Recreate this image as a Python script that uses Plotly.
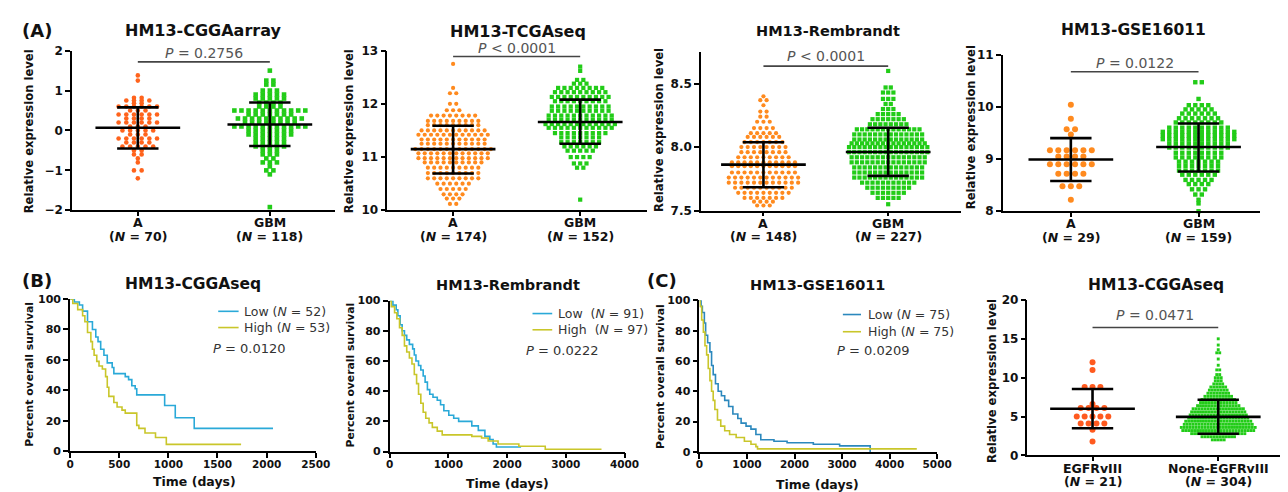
import plotly.graph_objects as go

W, H = 1288, 492
FONT = "DejaVu Sans"

# ================= DATA =================
# Beeswarm dot plots: each group given as rows (expression level, number of samples in that row)
# (A) HM13-CGGAarray
cggaarray_A_levels = [1.38, 1.25, 0.82, 0.75, 0.68, 0.6, 0.5, 0.4, 0.3, 0.2, 0.1, 0.0, -0.1, -0.2, -0.3, -0.4, -0.5, -0.6, -0.7, -0.8, -1.0, -1.2]
cggaarray_A_counts = [1, 1, 2, 4, 2, 6, 3, 6, 4, 6, 3, 5, 3, 6, 4, 5, 2, 2, 1, 1, 2, 1]
cggaarray_GBM_levels = [1.5, 1.25, 1.15, 1.0, 0.9, 0.8, 0.7, 0.6, 0.5, 0.4, 0.3, 0.2, 0.1, 0.0, -0.1, -0.2, -0.3, -0.4, -0.5, -0.6, -0.7, -0.8, -0.9, -1.0, -1.1, -1.92]
cggaarray_GBM_counts = [1, 2, 2, 3, 5, 5, 4, 4, 11, 7, 10, 8, 11, 7, 7, 5, 5, 5, 3, 3, 2, 3, 1, 2, 1, 1]
cggaarray_mean = [0.07, 0.15]
cggaarray_upper = [0.58, 0.70]
cggaarray_lower = [-0.45, -0.39]
cggaarray_cats = ["A", "GBM"]
cggaarray_n = ["(<i>N</i> = 70)", "(<i>N</i> = 118)"]
cggaarray_p = "<i>P</i> = 0.2756"

# HM13-TCGAseq
tcga_A_levels = [12.75, 12.3, 12.2, 12.0, 11.88, 11.78, 11.68, 11.6, 11.5, 11.42, 11.33, 11.25, 11.15, 11.07, 10.98, 10.9, 10.8, 10.7, 10.6, 10.5, 10.4, 10.3, 10.22, 10.12]
tcga_A_counts = [1, 1, 2, 2, 3, 8, 9, 9, 11, 12, 11, 11, 13, 12, 12, 10, 9, 9, 9, 6, 5, 4, 3, 2]
tcga_GBM_levels = [12.7, 12.62, 12.45, 12.38, 12.3, 12.22, 12.13, 12.05, 11.95, 11.87, 11.78, 11.7, 11.62, 11.55, 11.45, 11.37, 11.28, 11.2, 11.12, 11.0, 10.88, 10.8, 10.2]
tcga_GBM_counts = [1, 1, 2, 3, 8, 9, 10, 9, 10, 10, 11, 11, 12, 11, 9, 7, 7, 6, 5, 4, 3, 2, 1]
tcga_mean = [11.15, 11.66]
tcga_upper = [11.59, 12.08]
tcga_lower = [10.69, 11.25]
tcga_cats = ["A", "GBM"]
tcga_n = ["(<i>N</i> = 174)", "(<i>N</i> = 152)"]
tcga_p = "<i>P</i> < 0.0001"

# HM13-Rembrandt
remb_A_levels = [8.4, 8.37, 8.33, 8.28, 8.24, 8.2, 8.15, 8.11, 8.08, 8.04, 8.0, 7.96, 7.92, 7.88, 7.85, 7.8, 7.76, 7.72, 7.68, 7.64, 7.6, 7.57, 7.54]
remb_A_counts = [1, 2, 1, 2, 2, 3, 4, 5, 6, 7, 8, 8, 9, 11, 11, 11, 12, 12, 10, 9, 7, 4, 3]
remb_GBM_levels = [8.6, 8.47, 8.43, 8.38, 8.34, 8.3, 8.26, 8.22, 8.18, 8.14, 8.1, 8.06, 8.03, 8.0, 7.96, 7.92, 7.88, 7.84, 7.8, 7.76, 7.72, 7.68, 7.64, 7.6, 7.55]
remb_GBM_counts = [1, 2, 3, 3, 2, 3, 5, 7, 8, 13, 14, 14, 15, 16, 16, 15, 15, 14, 14, 14, 11, 9, 7, 5, 1]
remb_mean = [7.862, 7.962]
remb_upper = [8.038, 8.153]
remb_lower = [7.684, 7.773]
remb_cats = ["A", "GBM"]
remb_n = ["(<i>N</i> = 148)", "(<i>N</i> = 227)"]
remb_p = "<i>P</i> < 0.0001"

# HM13-GSE16011
gse_A_levels = [10.04, 9.77, 9.57, 9.47, 9.17, 9.05, 8.9, 8.72, 8.48, 8.22]
gse_A_counts = [1, 1, 2, 1, 6, 4, 6, 4, 3, 1]
gse_GBM_levels = [10.47, 10.15, 10.03, 9.95, 9.87, 9.78, 9.7, 9.6, 9.52, 9.45, 9.38, 9.3, 9.22, 9.12, 9.03, 8.95, 8.87, 8.78, 8.7, 8.6, 8.52, 8.42, 8.32, 8.22, 8.15, 8.0]
gse_GBM_counts = [2, 1, 4, 5, 6, 7, 8, 10, 12, 12, 12, 10, 10, 8, 8, 7, 7, 7, 6, 5, 4, 3, 2, 1, 1, 1]
gse_mean = [8.99, 9.23]
gse_upper = [9.40, 9.68]
gse_lower = [8.58, 8.76]
gse_cats = ["A", "GBM"]
gse_n = ["(<i>N</i> = 29)", "(<i>N</i> = 159)"]
gse_p = "<i>P</i> = 0.0122"

# (C) HM13-CGGAseq EGFRvIII
egfr_A_levels = [12.0, 11.0, 8.8, 6.6, 6.1, 5.0, 4.1, 3.3, 1.8]
egfr_A_counts = [1, 1, 3, 1, 4, 5, 4, 1, 1]
egfr_B_levels = [15.0, 14.2, 13.6, 13.2, 12.4, 11.6, 11.0, 10.4, 10.0, 9.6, 9.2, 8.8, 8.4, 8.0, 7.6, 7.2, 6.8, 6.4, 6.0, 5.6, 5.2, 4.8, 4.4, 4.0, 3.6, 3.2, 2.8, 2.4, 2.0]
egfr_B_counts = [1, 1, 1, 2, 1, 1, 2, 2, 3, 3, 4, 6, 7, 8, 10, 12, 13, 15, 18, 19, 20, 21, 23, 24, 26, 25, 19, 12, 5]
egfr_mean = [6.0, 4.95]
egfr_upper = [8.54, 7.16]
egfr_lower = [3.5, 2.79]
egfr_cats = ["EGFRvIII", "None-EGFRvIII"]
egfr_n = ["(<i>N</i> = 21)", "(<i>N</i> = 304)"]
egfr_p = "<i>P</i> = 0.0471"

# (B)/(C) Kaplan-Meier curves: step times (days) and percent survival
km_cgga_low_t = [0, 43, 94, 127, 177, 227, 261, 284, 311, 344, 378, 428, 445, 561, 595, 628, 662, 678, 962, 1070, 1263, 2065]
km_cgga_low_s = [100, 98, 96, 92, 85, 80, 75, 72, 67, 63, 58, 55, 51, 49, 47, 43, 41, 37, 30, 22, 15, 15]
km_cgga_high_t = [0, 27, 77, 127, 150, 177, 211, 227, 244, 271, 294, 328, 361, 378, 394, 445, 478, 528, 561, 678, 700, 762, 869, 979, 1740]
km_cgga_high_s = [100, 97, 93, 89, 85, 78, 72, 67, 63, 59, 56, 54, 49, 42, 36, 32, 29, 27, 25, 17, 15, 12, 9, 4.5, 4.5]
km_cgga_labels = ["Low (<i>N</i> = 52)", "High (<i>N</i> = 53)"]
km_cgga_p = "<i>P</i> = 0.0120"

km_remb_low_t = [0, 56, 112, 140, 179, 213, 252, 291, 336, 392, 420, 448, 492, 531, 571, 604, 643, 683, 738, 811, 867, 923, 1007, 1091, 1175, 1399, 1510, 1622, 1706, 1762, 1818, 2238]
km_remb_low_s = [100, 97, 94, 90, 84, 80, 77, 74, 71, 68, 64, 60, 57, 54, 50, 46, 41, 38, 36, 34, 31, 27, 24, 22, 20, 17, 14, 10, 8, 5, 3, 3]
km_remb_high_t = [0, 28, 84, 123, 168, 213, 252, 291, 336, 380, 420, 459, 492, 531, 571, 615, 671, 727, 811, 895, 1399, 1566, 1678, 1846, 2200, 2650, 3608]
km_remb_high_s = [100, 96, 92, 88, 82, 77, 70, 66, 62, 58, 51, 45, 38, 32, 26, 22, 19, 16, 13.5, 11, 10, 9, 7, 5, 3.5, 1.5, 1.5]
km_remb_labels = ["Low  (<i>N</i> = 91)", "High  (<i>N</i> = 97)"]
km_remb_p = "<i>P</i> = 0.0222"

km_gse_low_t = [0, 35, 62, 104, 131, 173, 221, 256, 290, 338, 394, 463, 532, 615, 704, 808, 877, 981, 1084, 1188, 1291, 1568, 1844, 2396, 2949, 3591]
km_gse_low_s = [100, 96, 92, 85, 77, 72, 66, 57, 51, 45, 40, 37, 34, 30, 25, 22, 19, 17, 15, 11.5, 8, 7, 6, 5, 4, 0]
km_gse_high_t = [0, 14, 48, 83, 117, 152, 186, 221, 256, 290, 325, 380, 449, 532, 635, 773, 946, 1084, 1188, 1222, 4572]
km_gse_high_s = [100, 96, 87, 79, 70, 64, 55, 47, 40, 34, 28, 21, 17, 14, 11.5, 9.5, 7, 5, 3.5, 2, 2]
km_gse_labels = ["Low (<i>N</i> = 75)", "High (<i>N</i> = 75)"]
km_gse_p = "<i>P</i> = 0.0209"

# ================= HELPERS =================
def px(x):
    return x / W

def py(y):
    return 1 - y / H

def swarm(levels, counts, center, dx):
    xs, ys = [], []
    for v, n in zip(levels, counts):
        for i in range(n):
            xs.append(center + (i - (n - 1) / 2) * dx)
            ys.append(v)
    return xs, ys

fig = go.Figure()
layout = dict(width=W, height=H, margin=dict(l=0, r=0, t=0, b=0), autosize=False,
              paper_bgcolor="white", plot_bgcolor="white", showlegend=False,
              font=dict(family=FONT, color="#111"))
annotations = []
shapes = []

AX = dict(showline=True, linecolor="black", linewidth=1.5, ticks="outside", ticklen=5,
          tickwidth=1.5, tickcolor="black", showgrid=False, zeroline=False, fixedrange=True)

def ann(text, x, y, size, bold=False, color="#111", angle=0, xanchor="center"):
    annotations.append(dict(text=text, x=px(x), y=py(y), xref="paper", yref="paper",
                            showarrow=False, xanchor=xanchor, yanchor="middle", textangle=angle,
                            font=dict(family=FONT, size=size, color=color,
                                      weight="bold" if bold else "normal")))

# ---------- dot plots ----------
dot_panels = [
    dict(n=1, box=(61, 328, 36.7, 201), cats=(127.7, 261.7), yr=(-2, 2), dtick=1, fmt="",
         A=(cggaarray_A_levels, cggaarray_A_counts), B=(cggaarray_GBM_levels, cggaarray_GBM_counts),
         stats=(cggaarray_mean, cggaarray_upper, cggaarray_lower), names=cggaarray_cats, ns=cggaarray_n,
         p=cggaarray_p, colA="#ff631c", sizeA=4.6, dxA=7.8, sizeB=4.6, dxB=7.2, sig=1.72, pty=39.3,
         title="HM13-CGGAarray", tpos=(194, 15.7), tsize=16, ytpos=(17, 120), lab=(214, 228)),
    dict(n=2, box=(381, 645, 36.7, 201), cats=(447.7, 576.7), yr=(10, 13), dtick=1, fmt="",
         A=(tcga_A_levels, tcga_A_counts), B=(tcga_GBM_levels, tcga_GBM_counts),
         stats=(tcga_mean, tcga_upper, tcga_lower), names=tcga_cats, ns=tcga_n,
         p=tcga_p, colA="#ff8a1e", sizeA=4.2, dxA=6.4, sizeB=4.2, dxB=6.4, sig=12.89, pty=33.5,
         title="HM13-TCGAseq", tpos=(513.3, 16.7), tsize=16, ytpos=(341.7, 120), lab=(214, 228)),
    dict(n=3, box=(699.3, 963, 38, 201.3), cats=(762.7, 889.3), yr=(7.5, 8.75), dtick=0.5, fmt=".1f",
         A=(remb_A_levels, remb_A_counts), B=(remb_GBM_levels, remb_GBM_counts),
         stats=(remb_mean, remb_upper, remb_lower), names=remb_cats, ns=remb_n,
         p=remb_p, colA="#ff8a1e", sizeA=4.2, dxA=6.4, sizeB=4.2, dxB=5.3, sig=8.638, pty=42.7,
         title="HM13-Rembrandt", tpos=(827.8, 16.7), tsize=14.5, ytpos=(656, 118), lab=(214.5, 228.5)),
    dict(n=4, box=(1005.7, 1266.7, 40.7, 202), cats=(1074.7, 1204.3), yr=(8, 11), dtick=1, fmt="",
         A=(gse_A_levels, gse_A_counts), B=(gse_GBM_levels, gse_GBM_counts),
         stats=(gse_mean, gse_upper, gse_lower), names=gse_cats, ns=gse_n,
         p=gse_p, colA="#ff8a1e", sizeA=6, dxA=8.5, sizeB=4.4, dxB=6.6, sig=10.67, pty=49.3,
         title="HM13-GSE16011", tpos=(1138.3, 15.7), tsize=15.5, ytpos=(972.8, 115), lab=(215, 229)),
    dict(n=8, box=(1030.7, 1286.7, 293.3, 453.3), cats=(1096.7, 1224.3), yr=(0, 20), dtick=5, fmt="",
         A=(egfr_A_levels, egfr_A_counts), B=(egfr_B_levels, egfr_B_counts),
         stats=(egfr_mean, egfr_upper, egfr_lower), names=egfr_cats, ns=egfr_n,
         p=egfr_p, colA="#ff5a1f", sizeA=6, dxA=8, sizeB=2.9, dxB=3.0, sig=16.45, pty=309.3,
         title="HM13-CGGAseq", tpos=(1160.8, 278.3), tsize=15.5, ytpos=(994.7, 376.7), lab=(466.5, 480)),
]

GREEN = "#22cc18"

for P in dot_panels:
    n = P["n"]
    xl, xr, yt, yb = P["box"]
    ca, cb = P["cats"]
    sp = cb - ca
    xrng = [(xl - ca) / sp, (xr - ca) / sp]
    xa, ya = ("x" if n == 1 else f"x{n}"), ("y" if n == 1 else f"y{n}")
    layout["xaxis" if n == 1 else f"xaxis{n}"] = dict(
        AX, domain=[px(xl), px(xr)], range=xrng, anchor=ya, tickvals=[0, 1], showticklabels=False,
        ticklen=4)
    layout["yaxis" if n == 1 else f"yaxis{n}"] = dict(
        AX, domain=[py(yb), py(yt)], range=list(P["yr"]), anchor=xa, dtick=P["dtick"],
        tickformat=P["fmt"], tickfont=dict(family=FONT, size=12, color="#111", weight="bold"))

    xsA, ysA = swarm(*P["A"], 0, P["dxA"] / sp)
    xsB, ysB = swarm(*P["B"], 1, P["dxB"] / sp)
    fig.add_trace(go.Scatter(x=xsA, y=ysA, mode="markers", xaxis=xa, yaxis=ya, cliponaxis=False,
                             marker=dict(color=P["colA"], size=P["sizeA"], symbol="circle", line=dict(width=0))))
    fig.add_trace(go.Scatter(x=xsB, y=ysB, mode="markers", xaxis=xa, yaxis=ya, cliponaxis=False,
                             marker=dict(color=GREEN, size=P["sizeB"], symbol="square", line=dict(width=0))))
    means, ups, lows = P["stats"]
    hw, cw = 43 / sp, 21 / sp
    bx, by = [], []
    for c, m, u, l in zip([0, 1], means, ups, lows):
        bx += [c - hw, c + hw, None, c - cw, c + cw, None, c - cw, c + cw, None, c, c, None]
        by += [m, m, None, u, u, None, l, l, None, u, l, None]
    fig.add_trace(go.Scatter(x=bx, y=by, mode="lines", xaxis=xa, yaxis=ya, cliponaxis=False,
                             line=dict(color="black", width=2.6)))
    fig.add_trace(go.Scatter(x=[0, 1], y=[P["sig"], P["sig"]], mode="lines", xaxis=xa, yaxis=ya,
                             cliponaxis=False, line=dict(color="#444", width=1.6)))
    ann(P["p"], (ca + cb) / 2, P["pty"], 14, color="#555")
    ann(P["title"], *P["tpos"], P["tsize"], bold=True)
    ann("Relative expression level", *P["ytpos"], 11.6, bold=True, angle=-90)
    for cpx, name, nn in zip([ca, cb], P["names"], P["ns"]):
        ann(name, cpx, P["lab"][0], 12.5, bold=True)
        ann(nn, cpx, P["lab"][1], 12.5, bold=True)

# ---------- KM plots ----------
km_panels = [
    dict(n=5, box=(59, 308.3, 292.3, 449), xmax=2500, dtick=500,
         low=(km_cgga_low_t, km_cgga_low_s), high=(km_cgga_high_t, km_cgga_high_s),
         labels=km_cgga_labels, p=km_cgga_p, clow="#2aa9d8",
         leg=(209.3, 230, 233.3, 305, 321.7), ppos=(201.7, 343.3),
         title="HM13-CGGAseq", tpos=(183.3, 276.7), tsize=15.5, ytpos=(17.5, 370), xtpos=(185, 480)),
    dict(n=6, box=(383.3, 621.7, 294, 449.3), xmax=4000, dtick=1000,
         low=(km_remb_low_t, km_remb_low_s), high=(km_remb_high_t, km_remb_high_s),
         labels=km_remb_labels, p=km_remb_p, clow="#2aa9d8",
         leg=(528.3, 548.3, 552.3, 307.3, 324), ppos=(519.3, 345),
         title="HM13-Rembrandt", tpos=(503.3, 277.7), tsize=14.5, ytpos=(343.3, 370.8), xtpos=(503, 482)),
    dict(n=7, box=(697.7, 939, 293.7, 449.7), xmax=5000, dtick=1000,
         low=(km_gse_low_t, km_gse_low_s), high=(km_gse_high_t, km_gse_high_s),
         labels=km_gse_labels, p=km_gse_p, clow="#2b88bd",
         leg=(843.3, 861.7, 866.7, 308.3, 326), ppos=(835, 345),
         title="HM13-GSE16011", tpos=(818, 277.7), tsize=14.5, ytpos=(657.5, 371.7), xtpos=(818, 483)),
]
YELLOW = "#c9c62a"

for P in km_panels:
    n = P["n"]
    xl, xr, yt, yb = P["box"]
    xa, ya = f"x{n}", f"y{n}"
    layout[f"xaxis{n}"] = dict(AX, domain=[px(xl), px(xr)], range=[0, P["xmax"]], anchor=ya,
                               dtick=P["dtick"], linewidth=1.8, ticklabelstandoff=-3,
                               tickfont=dict(family=FONT, size=10.5, color="#111", weight="bold"))
    layout[f"yaxis{n}"] = dict(AX, domain=[py(yb), py(yt)], range=[0, 100], anchor=xa, dtick=20,
                               linewidth=1.8,
                               tickfont=dict(family=FONT, size=11, color="#111", weight="bold"))
    for (t, s), col in [(P["low"], P["clow"]), (P["high"], YELLOW)]:
        fig.add_trace(go.Scatter(x=t, y=s, mode="lines", line_shape="hv", xaxis=xa, yaxis=ya,
                                 cliponaxis=False, line=dict(color=col, width=1.6)))
    lx0, lx1, tx, ly1, ly2 = P["leg"]
    for yy, col, lab in [(ly1, P["clow"], P["labels"][0]), (ly2, YELLOW, P["labels"][1])]:
        shapes.append(dict(type="line", xref="paper", yref="paper", x0=px(lx0), x1=px(lx1),
                           y0=py(yy), y1=py(yy), line=dict(color=col, width=1.6)))
        ann(lab, tx, yy, 12.5, color="#333", xanchor="left")
    ann(P["p"], *P["ppos"], 13, color="#333", xanchor="left")
    ann(P["title"], *P["tpos"], P["tsize"], bold=True)
    ann("Percent overall survival", *P["ytpos"], 10.8, bold=True, angle=-90)
    ann("Time (days)", *P["xtpos"], 12.5, bold=True)

# panel letters
ann("(A)", 25, 16, 18, bold=True)
ann("(B)", 25, 273.3, 18, bold=True)
ann("(C)", 660, 273, 18, bold=True)

layout["annotations"] = annotations
layout["shapes"] = shapes
fig.update_layout(**layout)
fig.write_html("out.html")
